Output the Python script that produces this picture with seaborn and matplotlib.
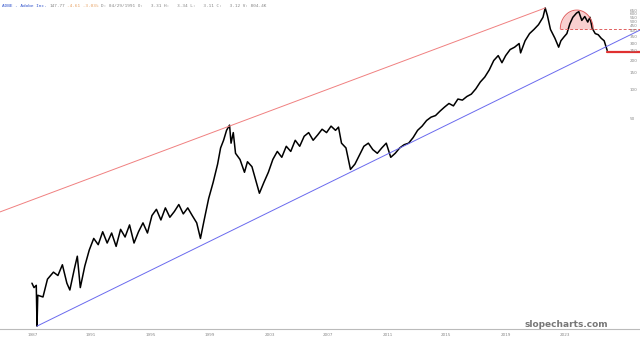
import numpy as np
import pandas as pd
import matplotlib
matplotlib.use("Agg")
import matplotlib.pyplot as plt
import seaborn as sns

# ---- data (decimal year, price) ----
years = [1987.46, 1987.6, 1987.75, 1987.8, 1987.85, 1988.2, 1988.5, 1988.9, 1989.2, 1989.5,
         1989.8, 1990.0, 1990.3, 1990.5, 1990.7, 1991.0, 1991.3, 1991.6, 1991.9, 1992.2,
         1992.5, 1992.8, 1993.1, 1993.4, 1993.7, 1994.0, 1994.3, 1994.6, 1994.9, 1995.2,
         1995.5, 1995.8, 1996.1, 1996.4, 1996.7, 1997.0, 1997.3, 1997.6, 1997.9, 1998.2,
         1998.5, 1998.75, 1999.0, 1999.3, 1999.6, 1999.9, 2000.1, 2000.3, 2000.5, 2000.7,
         2000.8, 2000.95, 2001.1, 2001.4, 2001.7, 2001.9, 2002.2, 2002.5, 2002.7, 2003.0,
         2003.3, 2003.6, 2003.9, 2004.2, 2004.5, 2004.8, 2005.1, 2005.4, 2005.7, 2006.0,
         2006.3, 2006.6, 2006.9, 2007.2, 2007.5, 2007.8, 2008.0, 2008.2, 2008.5, 2008.8,
         2009.1, 2009.4, 2009.7, 2010.0, 2010.3, 2010.6, 2010.9, 2011.2, 2011.5, 2011.8,
         2012.1, 2012.4, 2012.7, 2013.0, 2013.3, 2013.6, 2013.9, 2014.2, 2014.5, 2014.8,
         2015.1, 2015.4, 2015.7, 2016.0, 2016.3, 2016.6, 2016.9, 2017.2, 2017.5, 2017.8,
         2018.1, 2018.4, 2018.7, 2018.95, 2019.2, 2019.5, 2019.8, 2020.1, 2020.2, 2020.5,
         2020.8, 2021.1, 2021.4, 2021.7, 2021.85, 2022.0, 2022.2, 2022.5, 2022.75, 2022.9,
         2023.1, 2023.3, 2023.5, 2023.7, 2023.95, 2024.1, 2024.3, 2024.5, 2024.7, 2024.85,
         2025.0, 2025.2, 2025.4, 2025.6, 2025.8, 2026.0]
prices = [1.0, 0.9, 0.95, 0.36, 0.75, 0.72, 1.1, 1.3, 1.2, 1.55,
          1.0, 0.85, 1.4, 1.9, 0.9, 1.5, 2.2, 2.9, 2.5, 3.4,
          2.6, 3.3, 2.4, 3.6, 3.0, 4.0, 2.6, 3.4, 4.2, 3.3,
          5.0, 5.8, 4.5, 6.0, 4.8, 5.5, 6.5, 5.2, 6.0, 5.0,
          4.2, 2.9, 4.5, 7.5, 11, 17, 25, 30, 38, 43,
          28, 36, 22, 19, 14, 18, 16, 11, 8.5, 11,
          14, 19, 23, 20, 26, 23, 30, 26, 33, 36,
          30, 34, 39, 36, 42, 38, 41, 28, 25, 15,
          17, 21, 26, 28, 24, 22, 25, 28, 20, 22,
          25, 27, 28, 32, 38, 42, 48, 52, 54, 60,
          66, 72, 68, 80, 78, 85, 90, 102, 120, 135,
          160, 200, 225, 190, 225, 260, 275, 300, 240, 320,
          380, 420, 470, 560, 699, 580, 420, 340, 275, 320,
          350, 380, 480, 560, 620, 640, 520, 570, 500, 560,
          430, 380, 370, 340, 320, 255]

# trend lines and annotations
red_trend_x = [1985.32, 2021.85]
red_trend_y = [5.45, 699]
blue_trend_x = [1987.8, 2028.2]
blue_trend_y = [0.36, 413]
neck_x = [2022.85, 2028.2]
neck_y = [424, 424]
support_x = [2026.0, 2028.2]
support_y = [246, 246]

right_ticks = [50, 100, 150, 200, 250, 300, 350, 400, 450, 500, 550, 600, 650]
x_ticks = [1987.5, 1991.4, 1995.4, 1999.4, 2003.4, 2007.3, 2011.3, 2015.2, 2019.2, 2023.2]
x_labels = ["1987", "1991", "1995", "1999", "2003", "2007", "2011", "2015", "2019", "2023"]

header_parts = ["ADBE - Adobe Inc.", "147.77", "-4.61 -3.03%",
                "D: 04/29/1991 O:   3.31 H:   3.34 L:   3.11 C:   3.12 V: 804.4K"]
header_colors = ["#3355cc", "#888888", "#e8a060", "#888888"]

df = pd.DataFrame({"year": years, "price": prices})

sns.set_theme(style="white")
plt.rcParams["font.family"] = ["DejaVu Sans"]

fig = plt.figure(figsize=(6.4, 3.42), dpi=100)
ax = fig.add_axes([0, 13 / 342, 1, 329 / 342])

sns.lineplot(data=df, x="year", y="price", ax=ax, color="black", linewidth=1.1)
sns.lineplot(x=red_trend_x, y=red_trend_y, ax=ax, color="#f08080", linewidth=0.7)
sns.lineplot(x=blue_trend_x, y=blue_trend_y, ax=ax, color="#6a6aee", linewidth=0.7)
ax.plot(neck_x, neck_y, color="#e06060", linewidth=0.7, linestyle=(0, (3, 2)))
ax.plot(support_x, support_y, color="#e03030", linewidth=1.6)

# semicircle (rounded top)
cx, cy, rx = 2023.96, 424, 1.1
t = np.linspace(0, np.pi, 60)
arc_x = cx + rx * np.cos(t)
arc_y = np.exp(np.log(cy) + 0.45 * np.sin(t))
ax.fill_between(arc_x, cy, arc_y, color="#f4a0a0", alpha=0.5, linewidth=0)
ax.plot(arc_x, arc_y, color="#e06060", linewidth=0.7)

ax.set_yscale("log")
ax.set_xlim(1985.32, 2028.2)
ax.set_ylim(0.336, 845)
ax.set_xlabel("")
ax.set_ylabel("")
ax.set_yticks([])
ax.minorticks_off()
ax.set_yticks([], minor=True)
ax.set_xticks(x_ticks)
ax.set_xticklabels(x_labels, fontsize=3, color="#888888")
ax.tick_params(axis="x", length=0, pad=3)
for s in ["top", "right", "left"]:
    ax.spines[s].set_visible(False)
ax.spines["bottom"].set_color("#bbbbbb")
ax.spines["bottom"].set_linewidth(0.8)

for v in right_ticks:
    ax.text(0.984, v, str(v), transform=ax.get_yaxis_transform(), fontsize=3,
            color="#888888", ha="left", va="center")

# header: place parts one after another
renderer = fig.canvas.get_renderer()
xpos = 2.0
for part, col in zip(header_parts, header_colors):
    tx = fig.text(xpos / 640, 0.988, part, color=col, fontsize=3.2,
                  family="DejaVu Sans Mono", va="top")
    bb = tx.get_window_extent(renderer=renderer)
    xpos = bb.x1 + 2.5

fig.text(0.95, 0.05, "slopecharts.com", fontsize=6.5, color="#777777",
         ha="right", va="center", fontweight="bold")

fig.savefig("out.png", dpi=100, facecolor="white")
